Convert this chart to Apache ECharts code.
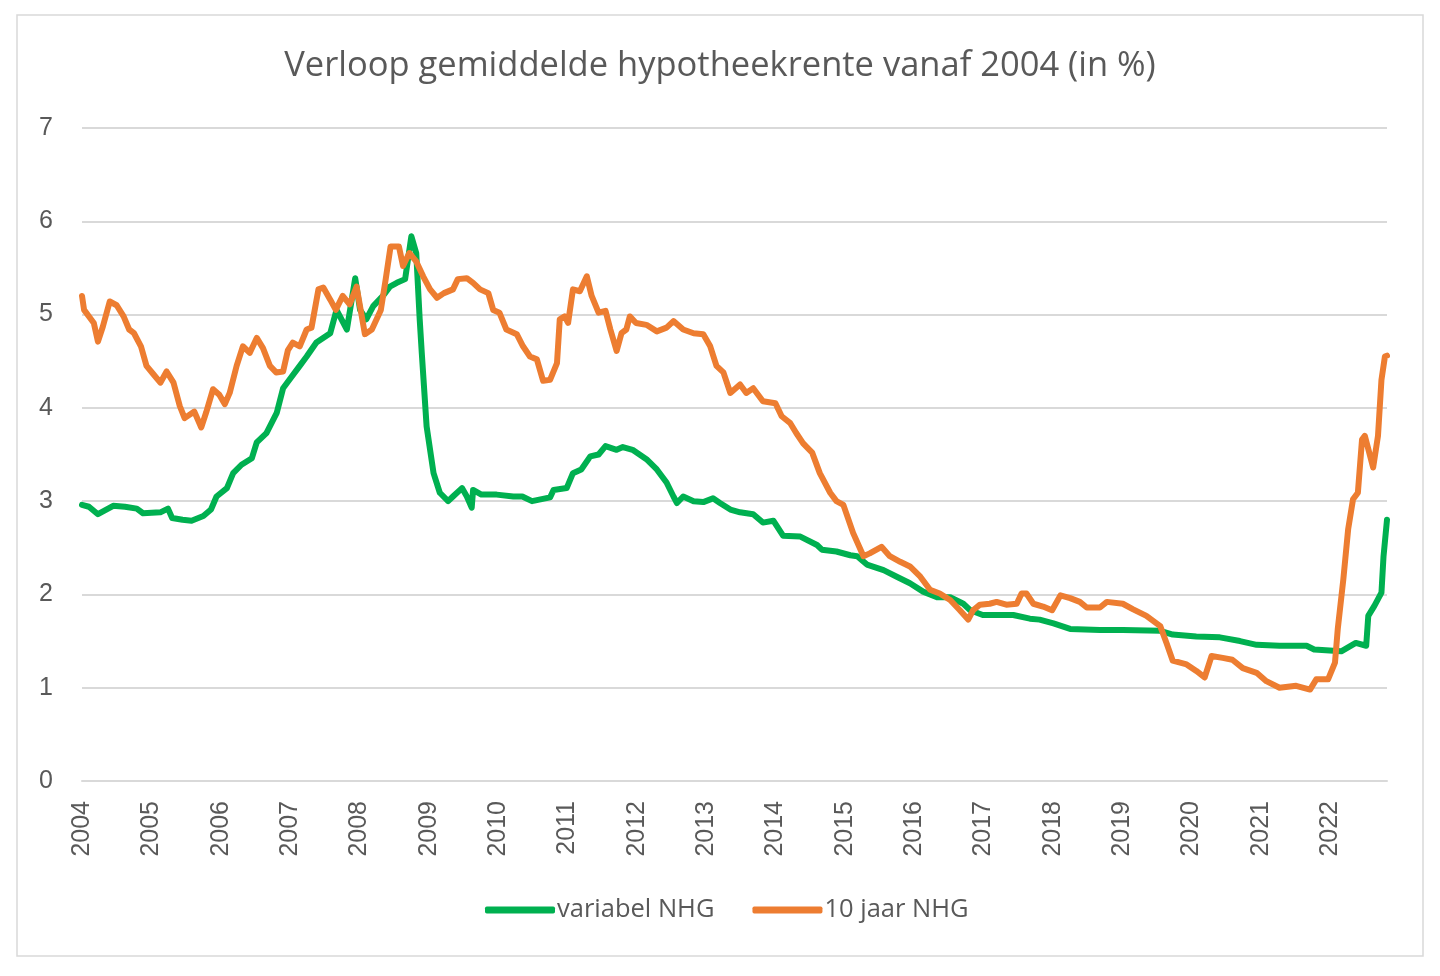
<!DOCTYPE html>
<html>
<head>
<meta charset="utf-8">
<title>Verloop gemiddelde hypotheekrente</title>
<script src="https://cdn.jsdelivr.net/npm/echarts@6/dist/echarts.min.js"></script>
<style>
  html, body { margin: 0; padding: 0; background: #fff; }
  #chart { width: 1440px; height: 976px; }
</style>
</head>
<body>
<div id="chart"></div>
<script>
// variabel NHG
const variabelJaar = [
  2004.00, 2004.10, 2004.23, 2004.33, 2004.45, 2004.62, 2004.79, 2004.88, 2005.13, 2005.24,
  2005.30, 2005.45, 2005.58, 2005.75, 2005.86, 2005.94, 2006.09, 2006.18, 2006.30, 2006.45,
  2006.52, 2006.66, 2006.81, 2006.90, 2006.98, 2007.14, 2007.24, 2007.38, 2007.58, 2007.67,
  2007.82, 2007.94, 2008.01, 2008.10, 2008.20, 2008.34, 2008.44, 2008.54, 2008.66, 2008.75,
  2008.82, 2008.87, 2008.90, 2008.97, 2009.07, 2009.16, 2009.28, 2009.35, 2009.48, 2009.55,
  2009.62, 2009.64, 2009.76, 2009.98, 2010.22, 2010.35, 2010.49, 2010.75, 2010.80, 2010.99,
  2011.08, 2011.20, 2011.33, 2011.45, 2011.55, 2011.71, 2011.80, 2011.94, 2012.14, 2012.29,
  2012.43, 2012.53, 2012.58, 2012.67, 2012.82, 2012.96, 2013.10, 2013.20, 2013.35, 2013.49,
  2013.68, 2013.82, 2013.97, 2014.11, 2014.36, 2014.60, 2014.67, 2014.88, 2015.08, 2015.18,
  2015.32, 2015.56, 2015.75, 2015.94, 2016.13, 2016.33, 2016.52, 2016.71, 2016.81, 2016.99,
  2017.43, 2017.67, 2017.81, 2018.01, 2018.25, 2018.68, 2019.01, 2019.55, 2019.73, 2020.07,
  2020.41, 2020.70, 2020.94, 2021.27, 2021.66, 2021.77, 2022.16, 2022.37, 2022.52, 2022.55,
  2022.64, 2022.74, 2022.77, 2022.82
]
const variabelRente = [
  2.96, 2.94, 2.86, 2.90, 2.95, 2.94, 2.92, 2.87, 2.88, 2.92,
  2.82, 2.80, 2.79, 2.84, 2.91, 3.05, 3.14, 3.30, 3.39, 3.46,
  3.63, 3.73, 3.95, 4.21, 4.29, 4.45, 4.55, 4.70, 4.80, 5.05,
  4.84, 5.39, 5.05, 4.95, 5.09, 5.20, 5.30, 5.34, 5.38, 5.84,
  5.66, 4.95, 4.59, 3.80, 3.30, 3.09, 3.00, 3.05, 3.14, 3.05,
  2.93, 3.12, 3.07, 3.07, 3.05, 3.05, 3.00, 3.04, 3.12, 3.14,
  3.30, 3.34, 3.48, 3.50, 3.59, 3.55, 3.58, 3.55, 3.45, 3.34,
  3.20, 3.05, 2.98, 3.05, 3.00, 2.99, 3.03, 2.98, 2.91, 2.88,
  2.86, 2.77, 2.79, 2.63, 2.62, 2.53, 2.48, 2.46, 2.42, 2.41,
  2.32, 2.26, 2.19, 2.12, 2.03, 1.97, 1.97, 1.90, 1.83, 1.78,
  1.78, 1.74, 1.73, 1.69, 1.63, 1.62, 1.62, 1.61, 1.57, 1.55,
  1.54, 1.50, 1.46, 1.45, 1.45, 1.41, 1.39, 1.48, 1.45, 1.77,
  1.88, 2.02, 2.41, 2.80
]

// 10 jaar NHG
const tienJaarJaar = [
  2004.00, 2004.03, 2004.13, 2004.17, 2004.23, 2004.30, 2004.40, 2004.50, 2004.60, 2004.68,
  2004.75, 2004.85, 2004.93, 2005.03, 2005.13, 2005.22, 2005.32, 2005.41, 2005.48, 2005.62,
  2005.72, 2005.79, 2005.89, 2005.98, 2006.06, 2006.13, 2006.23, 2006.32, 2006.42, 2006.52,
  2006.61, 2006.71, 2006.80, 2006.90, 2006.97, 2007.04, 2007.14, 2007.24, 2007.31, 2007.41,
  2007.48, 2007.58, 2007.66, 2007.76, 2007.86, 2007.96, 2008.08, 2008.18, 2008.31, 2008.38,
  2008.45, 2008.57, 2008.63, 2008.72, 2008.82, 2008.92, 2009.02, 2009.12, 2009.22, 2009.35,
  2009.42, 2009.55, 2009.64, 2009.74, 2009.86, 2009.93, 2010.02, 2010.12, 2010.27, 2010.36,
  2010.46, 2010.56, 2010.65, 2010.75, 2010.85, 2010.89, 2010.96, 2011.01, 2011.08, 2011.18,
  2011.28, 2011.35, 2011.45, 2011.55, 2011.62, 2011.71, 2011.78, 2011.85, 2011.90, 2011.99,
  2012.14, 2012.29, 2012.43, 2012.53, 2012.67, 2012.82, 2012.96, 2013.06, 2013.15, 2013.25,
  2013.35, 2013.49, 2013.58, 2013.68, 2013.82, 2014.00, 2014.09, 2014.21, 2014.30, 2014.40,
  2014.53, 2014.64, 2014.79, 2014.88, 2014.98, 2015.12, 2015.27, 2015.36, 2015.53, 2015.65,
  2015.80, 2015.94, 2016.09, 2016.23, 2016.37, 2016.52, 2016.66, 2016.78, 2016.85, 2016.95,
  2017.09, 2017.19, 2017.33, 2017.48, 2017.55, 2017.62, 2017.72, 2017.86, 2017.99, 2018.11,
  2018.25, 2018.39, 2018.49, 2018.68, 2018.78, 2019.01, 2019.16, 2019.35, 2019.55, 2019.64,
  2019.73, 2019.93, 2020.07, 2020.19, 2020.29, 2020.45, 2020.59, 2020.74, 2020.94, 2021.08,
  2021.27, 2021.51, 2021.71, 2021.80, 2021.97, 2022.07, 2022.11, 2022.19, 2022.26, 2022.33,
  2022.40, 2022.46, 2022.50, 2022.62, 2022.69, 2022.74, 2022.79, 2022.82
]
const tienJaarRente = [
  5.20, 5.05, 4.95, 4.91, 4.71, 4.87, 5.14, 5.10, 4.98, 4.84,
  4.80, 4.66, 4.45, 4.36, 4.27, 4.39, 4.27, 4.02, 3.89, 3.96,
  3.79, 3.95, 4.20, 4.14, 4.04, 4.16, 4.45, 4.66, 4.59, 4.75,
  4.64, 4.45, 4.38, 4.39, 4.62, 4.70, 4.66, 4.84, 4.86, 5.27,
  5.29, 5.16, 5.05, 5.20, 5.11, 5.30, 4.79, 4.84, 5.05, 5.38,
  5.73, 5.73, 5.52, 5.66, 5.57, 5.41, 5.27, 5.18, 5.23, 5.27,
  5.38, 5.39, 5.34, 5.27, 5.23, 5.05, 5.02, 4.84, 4.79, 4.66,
  4.55, 4.52, 4.29, 4.30, 4.48, 4.95, 4.98, 4.91, 5.27, 5.25,
  5.41, 5.20, 5.02, 5.04, 4.84, 4.61, 4.80, 4.84, 4.98, 4.91,
  4.89, 4.82, 4.86, 4.93, 4.84, 4.80, 4.79, 4.66, 4.45, 4.38,
  4.16, 4.25, 4.16, 4.21, 4.07, 4.05, 3.91, 3.84, 3.73, 3.62,
  3.52, 3.30, 3.09, 3.00, 2.96, 2.66, 2.41, 2.44, 2.51, 2.41,
  2.35, 2.30, 2.19, 2.05, 2.01, 1.94, 1.83, 1.73, 1.83, 1.89,
  1.90, 1.92, 1.89, 1.90, 2.01, 2.01, 1.90, 1.87, 1.83, 1.99,
  1.96, 1.92, 1.86, 1.86, 1.92, 1.90, 1.84, 1.77, 1.66, 1.48,
  1.29, 1.25, 1.18, 1.11, 1.34, 1.32, 1.30, 1.21, 1.16, 1.07,
  1.00, 1.02, 0.98, 1.09, 1.09, 1.27, 1.63, 2.16, 2.70, 3.02,
  3.09, 3.66, 3.70, 3.36, 3.70, 4.30, 4.55, 4.56
]

const zip = (xs, ys) => xs.map((x, i) => [x, ys[i]])

const textColor = '#595959'
const gridColor = '#d9d9d9'
const font = '"Open Sans", "Noto Sans", sans-serif'
const axisFont = '"Liberation Sans", Arial, sans-serif'

let myChart = echarts.init(document.getElementById('chart'))
myChart.setOption({
  animation: false,
  backgroundColor: '#fff',
  textStyle: { fontFamily: font },
  graphic: [{
    type: 'rect',
    shape: { x: 17, y: 15, width: 1406, height: 941 },
    style: { fill: 'none', stroke: gridColor, lineWidth: 1.5 },
    silent: true
  }],
  title: {
    text: 'Verloop gemiddelde hypotheekrente vanaf 2004 (in %)',
    left: 'center',
    top: 44,
    textStyle: { fontFamily: font, fontSize: 34.5, fontWeight: 'normal', color: textColor }
  },
  grid: { left: 82, right: 53, top: 128, bottom: 195, containLabel: false },
  legend: {
    left: 480,
    top: 892,
    icon: 'roundRect',
    itemWidth: 70,
    itemHeight: 7,
    itemGap: 38,
    textStyle: { fontFamily: font, fontSize: 25.5, color: textColor, padding: [0, 0, 0, -3] },
    data: ['variabel NHG', '10 jaar NHG']
  },
  xAxis: {
    type: 'value',
    min: 2004,
    max: 2022.82,
    interval: 1,
    splitLine: { show: false },
    axisTick: { show: false },
    axisLine: { show: true, lineStyle: { color: gridColor, width: 2 } },
    axisLabel: {
      rotate: 90,
      margin: 20,
      fontFamily: axisFont,
      fontSize: 25,
      color: textColor,
      showMaxLabel: false,
      formatter: (v) => (Number.isInteger(v) ? String(v) : '')
    }
  },
  yAxis: {
    type: 'value',
    min: 0,
    max: 7,
    interval: 1,
    axisLine: { show: false },
    axisTick: { show: false },
    splitLine: { lineStyle: { color: gridColor, width: 2 } },
    axisLabel: { margin: 29, fontFamily: axisFont, fontSize: 25, color: textColor }
  },
  series: [
    {
      name: 'variabel NHG',
      type: 'line',
      data: zip(variabelJaar, variabelRente),
      showSymbol: false,
      color: '#00B050',
      lineStyle: { width: 6, color: '#00B050', join: 'round', cap: 'round' }
    },
    {
      name: '10 jaar NHG',
      type: 'line',
      data: zip(tienJaarJaar, tienJaarRente),
      showSymbol: false,
      color: '#ED7D31',
      lineStyle: { width: 6, color: '#ED7D31', join: 'round', cap: 'round' }
    }
  ]
})
</script>
</body>
</html>
